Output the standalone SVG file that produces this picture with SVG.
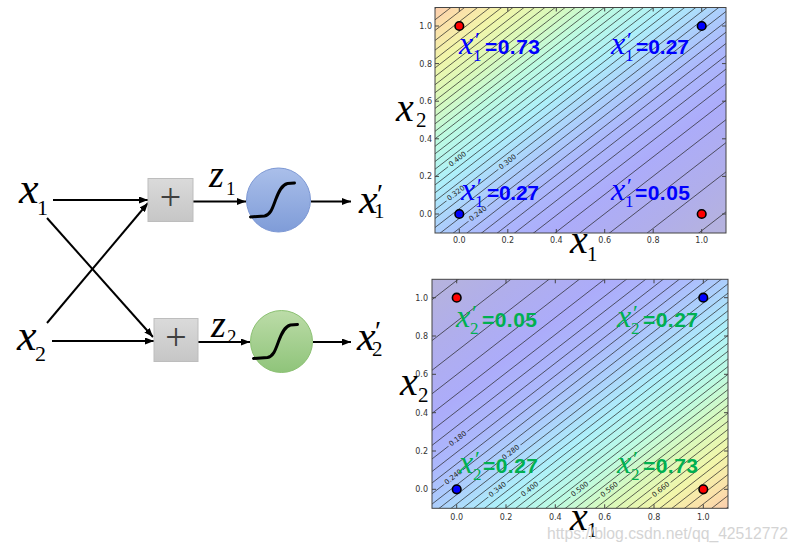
<svg xmlns="http://www.w3.org/2000/svg" width="798" height="553" viewBox="0 0 798 553">
<style>
.mx{font-family:"Liberation Serif","Times New Roman",serif;font-style:italic;fill:#000}
.ms{font-family:"Liberation Serif","Times New Roman",serif;fill:#000}
.ln{stroke:#000;stroke-width:2;fill:none}
.sg{stroke:#000;stroke-width:3;fill:none;stroke-linecap:round}
.tk{font-family:"DejaVu Sans",sans-serif;font-size:8px;fill:#333}
.cl{font-family:"DejaVu Sans",sans-serif;font-size:7px;fill:#222;text-anchor:middle;dominant-baseline:central}
.ct{stroke:#222;stroke-width:0.7;fill:none}
.fr{fill:none;stroke:#444;stroke-width:1}
.tm{stroke:#444;stroke-width:1}
.bv{font-family:"Liberation Sans",Arial,sans-serif;font-weight:bold;font-size:21px}
.ax{font-family:"Liberation Serif","Times New Roman",serif;font-style:italic;font-size:32px}
.ap{font-family:"Liberation Serif","Times New Roman",serif;font-size:22px}
.as{font-family:"Liberation Serif","Times New Roman",serif;font-size:17px}
.blue{fill:#0000ff}
.grn{fill:#00b050}
.pl{font-family:"Liberation Serif","Times New Roman",serif;font-size:38px;fill:#404040;text-anchor:middle}
</style>
<defs>
<marker id="ah" markerWidth="9" markerHeight="7" refX="9" refY="3.5" orient="auto" markerUnits="userSpaceOnUse"><path d="M0,0 L9,3.5 L0,7 z" fill="#000"/></marker>
<linearGradient id="box" x1="0" y1="0" x2="0" y2="1"><stop offset="0" stop-color="#dadada"/><stop offset="1" stop-color="#c6c6c6"/></linearGradient>
<linearGradient id="cb" x1="0" y1="0" x2="0" y2="1"><stop offset="0" stop-color="#aabfea"/><stop offset="1" stop-color="#7f9cd8"/></linearGradient>
<linearGradient id="cg" x1="0" y1="0" x2="0" y2="1"><stop offset="0" stop-color="#bcdca8"/><stop offset="1" stop-color="#8fc47a"/></linearGradient>
<linearGradient id="cm" gradientUnits="userSpaceOnUse" x1="726" y1="233" x2="507.5" y2="-48.9">
<stop offset="0" stop-color="#b6b3dc"/>
<stop offset="0.15" stop-color="#b0aeec"/>
<stop offset="0.3" stop-color="#acacfa"/>
<stop offset="0.42" stop-color="#acb8fc"/>
<stop offset="0.5" stop-color="#accefc"/>
<stop offset="0.6" stop-color="#aef0fa"/>
<stop offset="0.7" stop-color="#bdfbe2"/>
<stop offset="0.79" stop-color="#daf9bb"/>
<stop offset="0.875" stop-color="#f2f6aa"/>
<stop offset="0.95" stop-color="#fbe0aa"/>
<stop offset="1" stop-color="#fccdae"/>
</linearGradient>
<linearGradient id="cm2" href="#cm" gradientUnits="userSpaceOnUse" x1="432" y1="279.3" x2="654.6" y2="565.7"/>
<clipPath id="clt"><rect x="435" y="7.5" width="291" height="225.5"/></clipPath>
<clipPath id="clb"><rect x="432" y="279.3" width="296" height="229"/></clipPath>
<path id="lt" d="M410.8,251.6 L750.2,-11.6"/>
<path id="lb" d="M407.4,527.6 L752.6,259.3"/>
<mask id="mkt" maskUnits="userSpaceOnUse" x="400" y="0" width="398" height="260">
<rect x="400" y="0" width="398" height="260" fill="#fff"/>
<g fill="#000">
<rect x="-12" y="-3.5" width="24" height="7" transform="translate(457.7,159.3) rotate(-37.8)"/>
<rect x="-12" y="-3.5" width="24" height="7" transform="translate(507.7,162) rotate(-37.8)"/>
<rect x="-12" y="-3.5" width="24" height="7" transform="translate(456,193.4) rotate(-37.8)"/>
<rect x="-12" y="-3.5" width="24" height="7" transform="translate(478,213.9) rotate(-37.8)"/>
</g>
</mask>
<mask id="mkb" maskUnits="userSpaceOnUse" x="400" y="270" width="398" height="260">
<rect x="400" y="270" width="398" height="260" fill="#fff"/>
<g fill="#000">
<rect x="-12" y="-3.5" width="24" height="7" transform="translate(458,438.8) rotate(-37.9)"/>
<rect x="-12" y="-3.5" width="24" height="7" transform="translate(511,452.5) rotate(-37.9)"/>
<rect x="-12" y="-3.5" width="24" height="7" transform="translate(453.3,477.2) rotate(-37.9)"/>
<rect x="-12" y="-3.5" width="24" height="7" transform="translate(497.7,489.7) rotate(-37.9)"/>
<rect x="-12" y="-3.5" width="24" height="7" transform="translate(530,489.3) rotate(-37.9)"/>
<rect x="-12" y="-3.5" width="24" height="7" transform="translate(580,489.3) rotate(-37.9)"/>
<rect x="-12" y="-3.5" width="24" height="7" transform="translate(609.3,489.7) rotate(-37.9)"/>
<rect x="-12" y="-3.5" width="24" height="7" transform="translate(661,489.7) rotate(-37.9)"/>
</g>
</mask>
</defs>
<rect width="798" height="553" fill="#fff"/>

<!-- connectors -->
<g id="connectors">
<path class="ln" d="M53,200 L148,200" marker-end="url(#ah)"/>
<path class="ln" d="M52,341 L154,341" marker-end="url(#ah)"/>
<path class="ln" d="M47,218 L153,337" marker-end="url(#ah)"/>
<path class="ln" d="M47,323 L148,203" marker-end="url(#ah)"/>
<path class="ln" d="M193,201.5 L246,201.5" marker-end="url(#ah)"/>
<path class="ln" d="M311,201.5 L351,201.5" marker-end="url(#ah)"/>
<path class="ln" d="M198,342 L250,342" marker-end="url(#ah)"/>
<path class="ln" d="M313,342 L351,342" marker-end="url(#ah)"/>
</g>

<g id="in-x1"><text class="mx" x="19" y="203" font-size="44">x</text><text class="ms" x="37" y="215" font-size="22">1</text></g>
<g id="in-x2"><text class="mx" x="17" y="350" font-size="44">x</text><text class="ms" x="35" y="361" font-size="22">2</text></g>
<g id="sum1"><rect x="148" y="178.5" width="45" height="43" fill="url(#box)" stroke="#bdbdbd"/><text class="pl" x="170.5" y="209.5">+</text></g>
<g id="sum2"><rect x="154" y="318.5" width="44" height="43" fill="url(#box)" stroke="#bdbdbd"/><text class="pl" x="176" y="349.5">+</text></g>
<g id="z1"><text class="mx" x="209" y="187" font-size="38">z</text><text class="ms" x="226" y="195" font-size="19">1</text></g>
<g id="z2"><text class="mx" x="211" y="337" font-size="38">z</text><text class="ms" x="227" y="343" font-size="19">2</text></g>
<g id="sig1"><circle cx="278.5" cy="200" r="32" fill="url(#cb)" stroke="#7d98d4" stroke-width="1"/><path class="sg" transform="translate(278.5,200)" d="M-28,17 L-14,16 C-8,15 -6,8 -3,0 C0,-8 3,-15 9,-16.5 L16,-17"/></g>
<g id="sig2"><circle cx="281.5" cy="341.5" r="31" fill="url(#cg)" stroke="#8cc173" stroke-width="1"/><path class="sg" transform="translate(281.5,341.5)" d="M-28,17 L-14,16 C-8,15 -6,8 -3,0 C0,-8 3,-15 9,-16.5 L16,-17"/></g>
<g id="out1"><text class="mx" x="359" y="213" font-size="42">x</text><text class="ms" x="377" y="203" font-size="28">′</text><text class="ms" x="374" y="218" font-size="21">1</text></g>
<g id="out2"><text class="mx" x="357" y="350" font-size="42">x</text><text class="ms" x="375" y="340" font-size="28">′</text><text class="ms" x="372" y="356" font-size="21">2</text></g>

<!-- top plot -->
<g id="plot-top">
<rect x="435" y="7.5" width="291" height="225.5" fill="url(#cm)"/>
<g clip-path="url(#clt)"><g mask="url(#mkt)" class="ct">
<use href="#lt" y="204.7"/><use href="#lt" y="164.7"/><use href="#lt" y="135.5"/><use href="#lt" y="112.5"/><use href="#lt" y="93.2"/><use href="#lt" y="76.6"/><use href="#lt" y="61.9"/><use href="#lt" y="48.5"/><use href="#lt" y="36.3"/><use href="#lt" y="25"/><use href="#lt" y="14.4"/><use href="#lt" y="4.3"/><use href="#lt" y="-5.3"/><use href="#lt" y="-14.4"/><use href="#lt" y="-23.1"/><use href="#lt" y="-31.7"/><use href="#lt" y="-40"/><use href="#lt" y="-47.9"/><use href="#lt" y="-55.9"/><use href="#lt" y="-63.6"/><use href="#lt" y="-71.3"/><use href="#lt" y="-79"/><use href="#lt" y="-86.5"/><use href="#lt" y="-94"/><use href="#lt" y="-101.5"/><use href="#lt" y="-109"/><use href="#lt" y="-116.7"/><use href="#lt" y="-124.4"/><use href="#lt" y="-132.1"/><use href="#lt" y="-140.1"/><use href="#lt" y="-148.1"/><use href="#lt" y="-156.3"/><use href="#lt" y="-164.9"/><use href="#lt" y="-173.6"/><use href="#lt" y="-182.7"/><use href="#lt" y="-192.3"/><use href="#lt" y="-202.4"/><use href="#lt" y="-213"/><use href="#lt" y="-224.3"/>
</g></g>
<text class="cl" transform="translate(457.7,159.3) rotate(-37.8)">0.400</text>
<text class="cl" transform="translate(507.7,162) rotate(-37.8)">0.300</text>
<text class="cl" transform="translate(456,193.4) rotate(-37.8)">0.320</text>
<text class="cl" transform="translate(478,213.9) rotate(-37.8)">0.240</text>
<rect class="fr" x="435" y="7.5" width="291" height="225.5"/>
<path class="tm" d="M459.3,233v-4M507.8,233v-4M556.3,233v-4M604.7,233v-4M653.2,233v-4M701.7,233v-4M459.3,7.5v4M507.8,7.5v4M556.3,7.5v4M604.7,7.5v4M653.2,7.5v4M701.7,7.5v4M435,26h4M435,63.6h4M435,101.2h4M435,138.8h4M435,176.4h4M435,214h4M726,26h-4M726,63.6h-4M726,101.2h-4M726,138.8h-4M726,176.4h-4M726,214h-4"/>
<g class="tk" text-anchor="end"><text x="432" y="29">1.0</text><text x="432" y="66.6">0.8</text><text x="432" y="104.2">0.6</text><text x="432" y="141.8">0.4</text><text x="432" y="179.4">0.2</text><text x="432" y="217">0.0</text></g>
<g class="tk" text-anchor="middle"><text x="459.3" y="243">0.0</text><text x="507.8" y="243">0.2</text><text x="556.3" y="243">0.4</text><text x="604.7" y="243">0.6</text><text x="653.2" y="243">0.8</text><text x="701.7" y="243">1.0</text></g>
<g stroke="#000" stroke-width="1.6"><circle cx="459.3" cy="26" r="4.3" fill="#f00"/><circle cx="701.7" cy="26" r="4.3" fill="#00f"/><circle cx="459.3" cy="214" r="4.3" fill="#00f"/><circle cx="701.7" cy="214" r="4.3" fill="#f00"/></g>
<g class="blue">
<text class="ax" x="459" y="54">x</text><text class="ap" x="475" y="47">′</text><text class="as" x="473" y="61">1</text><text class="bv" x="485" y="54" textLength="55" lengthAdjust="spacing">=0.73</text>
<text class="ax" x="611" y="54">x</text><text class="ap" x="627" y="47">′</text><text class="as" x="625" y="61">1</text><text class="bv" x="636" y="54" textLength="53" lengthAdjust="spacing">=0.27</text>
<text class="ax" x="461" y="200">x</text><text class="ap" x="477" y="193">′</text><text class="as" x="475" y="207">1</text><text class="bv" x="487" y="200" textLength="52" lengthAdjust="spacing">=0.27</text>
<text class="ax" x="611" y="200">x</text><text class="ap" x="627" y="193">′</text><text class="as" x="625" y="207">1</text><text class="bv" x="635" y="200" textLength="55" lengthAdjust="spacing">=0.05</text>
</g>
<g id="axlab-top"><text class="mx" x="396" y="121" font-size="40">x</text><text class="ms" x="416" y="127" font-size="21">2</text><text class="mx" x="570" y="253" font-size="40">x</text><text class="ms" x="587" y="261" font-size="21">1</text></g>
</g>

<!-- bottom plot -->
<g id="plot-bottom">
<rect x="432" y="279.3" width="296" height="229" fill="url(#cm2)"/>
<g clip-path="url(#clb)"><g mask="url(#mkb)" class="ct">
<use href="#lb" y="-208.8"/><use href="#lb" y="-167.9"/><use href="#lb" y="-138.2"/><use href="#lb" y="-114.7"/><use href="#lb" y="-95.1"/><use href="#lb" y="-78.1"/><use href="#lb" y="-63.1"/><use href="#lb" y="-49.5"/><use href="#lb" y="-37"/><use href="#lb" y="-25.5"/><use href="#lb" y="-14.7"/><use href="#lb" y="-4.4"/><use href="#lb" y="5.4"/><use href="#lb" y="14.7"/><use href="#lb" y="23.6"/><use href="#lb" y="32.3"/><use href="#lb" y="40.7"/><use href="#lb" y="48.9"/><use href="#lb" y="57"/><use href="#lb" y="64.9"/><use href="#lb" y="72.8"/><use href="#lb" y="80.5"/><use href="#lb" y="88.2"/><use href="#lb" y="95.9"/><use href="#lb" y="103.5"/><use href="#lb" y="111.2"/><use href="#lb" y="119"/><use href="#lb" y="126.8"/><use href="#lb" y="134.7"/><use href="#lb" y="142.8"/><use href="#lb" y="151"/><use href="#lb" y="159.4"/><use href="#lb" y="168.1"/><use href="#lb" y="177"/><use href="#lb" y="186.3"/><use href="#lb" y="196.1"/><use href="#lb" y="206.4"/><use href="#lb" y="217.2"/><use href="#lb" y="228.7"/>
</g></g>
<text class="cl" transform="translate(458,438.8) rotate(-37.9)">0.180</text>
<text class="cl" transform="translate(511,452.5) rotate(-37.9)">0.280</text>
<text class="cl" transform="translate(453.3,477.2) rotate(-37.9)">0.240</text>
<text class="cl" transform="translate(497.7,489.7) rotate(-37.9)">0.340</text>
<text class="cl" transform="translate(530,489.3) rotate(-37.9)">0.400</text>
<text class="cl" transform="translate(580,489.3) rotate(-37.9)">0.500</text>
<text class="cl" transform="translate(609.3,489.7) rotate(-37.9)">0.560</text>
<text class="cl" transform="translate(661,489.7) rotate(-37.9)">0.660</text>
<rect class="fr" x="432" y="279.3" width="296" height="229"/>
<path class="tm" d="M456.7,508.3v-4M506,508.3v-4M555.3,508.3v-4M604.7,508.3v-4M654,508.3v-4M703.3,508.3v-4M456.7,279.3v4M506,279.3v4M555.3,279.3v4M604.7,279.3v4M654,279.3v4M703.3,279.3v4M432,297.7h4M432,336h4M432,374.3h4M432,412.7h4M432,451h4M432,489.3h4M728,297.7h-4M728,336h-4M728,374.3h-4M728,412.7h-4M728,451h-4M728,489.3h-4"/>
<g class="tk" text-anchor="end"><text x="428" y="300.7">1.0</text><text x="428" y="339">0.8</text><text x="428" y="377.3">0.6</text><text x="428" y="415.7">0.4</text><text x="428" y="454">0.2</text><text x="428" y="492.3">0.0</text></g>
<g class="tk" text-anchor="middle"><text x="456.7" y="519.5">0.0</text><text x="506" y="519.5">0.2</text><text x="555.3" y="519.5">0.4</text><text x="604.7" y="519.5">0.6</text><text x="654" y="519.5">0.8</text><text x="703.3" y="519.5">1.0</text></g>
<g stroke="#000" stroke-width="1.6"><circle cx="456.7" cy="297.7" r="4.3" fill="#f00"/><circle cx="703.3" cy="297.7" r="4.3" fill="#00f"/><circle cx="456.7" cy="489.3" r="4.3" fill="#00f"/><circle cx="703.3" cy="489.3" r="4.3" fill="#f00"/></g>
<g class="grn">
<text class="ax" x="456" y="327">x</text><text class="ap" x="472" y="320">′</text><text class="as" x="470" y="334">2</text><text class="bv" x="482" y="327" textLength="55" lengthAdjust="spacing">=0.05</text>
<text class="ax" x="617" y="327">x</text><text class="ap" x="633" y="320">′</text><text class="as" x="631" y="334">2</text><text class="bv" x="643" y="327" textLength="55" lengthAdjust="spacing">=0.27</text>
<text class="ax" x="459" y="473">x</text><text class="ap" x="475" y="466">′</text><text class="as" x="473" y="480">2</text><text class="bv" x="483" y="473" textLength="55" lengthAdjust="spacing">=0.27</text>
<text class="ax" x="617" y="473">x</text><text class="ap" x="633" y="466">′</text><text class="as" x="631" y="480">2</text><text class="bv" x="643" y="473" textLength="55" lengthAdjust="spacing">=0.73</text>
</g>
<g id="axlab-bottom"><text class="mx" x="400" y="395" font-size="40">x</text><text class="ms" x="418" y="402" font-size="21">2</text><text class="mx" x="570" y="530" font-size="40">x</text><text class="ms" x="587" y="537" font-size="21">1</text></g>
</g>

<text x="547" y="539" font-family="'Liberation Sans',Arial,sans-serif" font-size="16" fill="#d4d4d4" textLength="241" lengthAdjust="spacingAndGlyphs">https://blog.csdn.net/qq_42512772</text>
</svg>
